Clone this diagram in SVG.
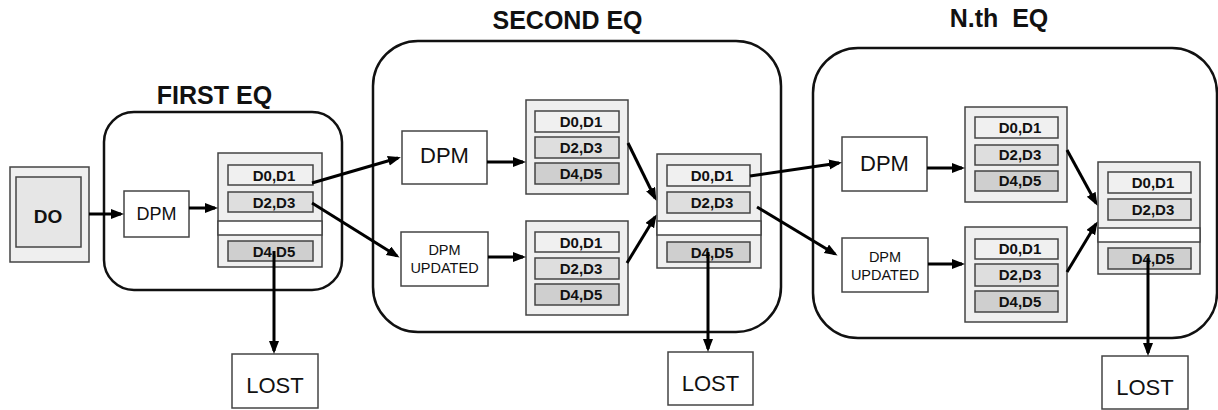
<svg xmlns="http://www.w3.org/2000/svg" width="1218" height="410" viewBox="0 0 1218 410">
<defs>
<style>
text{font-family:"Liberation Sans",Arial,sans-serif;fill:#111;text-anchor:middle}
.title{font-size:25px;font-weight:bold}
.eq{fill:none;stroke:#111;stroke-width:2.5}
.box{fill:#fff;stroke:#444;stroke-width:1.5}
.panel{fill:#efefef;stroke:#444;stroke-width:1.5}
.band{fill:#fff;stroke:#444;stroke-width:1.5}
.c1{fill:#f0f0f0;stroke:#444;stroke-width:1.5}
.c2{fill:#dedede;stroke:#444;stroke-width:1.5}
.c3{fill:#cfcfcf;stroke:#444;stroke-width:1.5}
.cell{font-size:15px;font-weight:bold}
.dpm{font-size:22px}
.upd{font-size:14.5px}
.lost{font-size:22px}
.conn line{stroke:#000;stroke-width:3;marker-end:url(#ah)}
</style>
<marker id="ah" markerUnits="userSpaceOnUse" markerWidth="14" markerHeight="12" refX="10" refY="5" orient="auto">
<path d="M0,0 L13,5 L0,10 z" fill="#000"/>
</marker>
</defs>
<rect width="1218" height="410" fill="#fff"/>

<g id="eq1">
<rect class="eq" x="104" y="112" width="238" height="178" rx="30"/>
<text class="title" x="214.5" y="104">FIRST EQ</text>
</g>
<g id="eq2">
<rect class="eq" x="373" y="41" width="408" height="291" rx="45"/>
<text class="title" x="567.5" y="29">SECOND EQ</text>
</g>
<g id="eqn">
<rect class="eq" x="813" y="48" width="404" height="290" rx="45"/>
<text class="title" x="999" y="27" xml:space="preserve">N.th  EQ</text>
</g>

<g id="do">
<rect class="panel" x="10" y="167" width="79" height="95"/>
<rect class="c1" x="16" y="177" width="65" height="70" style="fill:#e6e6e6"/>
<text x="48" y="223" style="font-size:19px;font-weight:bold">DO</text>
</g>

<g id="dpm1">
<rect class="box" x="124" y="191" width="65" height="46"/>
<text x="156.5" y="220" style="font-size:18px">DPM</text>
</g>

<g id="stack1">
<rect class="panel" x="218" y="153" width="104" height="114"/>
<rect class="band" x="218" y="221" width="104" height="14"/>
<rect class="c1" x="228" y="165" width="85" height="20"/>
<text class="cell" x="274" y="181">D0,D1</text>
<rect class="c2" x="228" y="192" width="85" height="20"/>
<text class="cell" x="274" y="208">D2,D3</text>
<rect class="c3" x="228" y="241" width="85" height="20"/>
<text class="cell" x="274" y="257">D4,D5</text>
</g>

<g id="lost1">
<rect class="box" x="232" y="354" width="86" height="54"/>
<text class="lost" x="275" y="393">LOST</text>
</g>

<g id="dpm2">
<rect class="box" x="402" y="131" width="85" height="53"/>
<text class="dpm" x="444.5" y="163">DPM</text>
</g>
<g id="dpmu2">
<rect class="box" x="401" y="232" width="87" height="54"/>
<text class="upd" x="444.5" y="255">DPM</text>
<text class="upd" x="444.5" y="273">UPDATED</text>
</g>

<g id="stack2a">
<rect class="panel" x="526" y="100" width="102" height="94"/>
<rect class="c1" x="535" y="111" width="84" height="21"/>
<text class="cell" x="581" y="127">D0,D1</text>
<rect class="c2" x="535" y="137" width="84" height="21"/>
<text class="cell" x="581" y="153">D2,D3</text>
<rect class="c3" x="535" y="163" width="84" height="21"/>
<text class="cell" x="581" y="179">D4,D5</text>
</g>
<g id="stack2b">
<rect class="panel" x="526" y="221" width="102" height="94"/>
<rect class="c1" x="535" y="232" width="84" height="20"/>
<text class="cell" x="581" y="248">D0,D1</text>
<rect class="c2" x="535" y="258" width="84" height="21"/>
<text class="cell" x="581" y="274">D2,D3</text>
<rect class="c3" x="535" y="284" width="84" height="21"/>
<text class="cell" x="581" y="300">D4,D5</text>
</g>
<g id="stack2m">
<rect class="panel" x="657" y="154" width="104" height="114"/>
<rect class="band" x="657" y="221" width="104" height="14"/>
<rect class="c1" x="667" y="165" width="83" height="21"/>
<text class="cell" x="712" y="181">D0,D1</text>
<rect class="c2" x="667" y="192" width="83" height="21"/>
<text class="cell" x="712" y="208">D2,D3</text>
<rect class="c3" x="667" y="242" width="83" height="20"/>
<text class="cell" x="712" y="258">D4,D5</text>
</g>
<g id="lost2">
<rect class="box" x="668" y="352" width="85" height="53"/>
<text class="lost" x="710.5" y="391">LOST</text>
</g>

<g id="dpmn">
<rect class="box" x="842" y="137" width="85" height="54"/>
<text class="dpm" x="884.5" y="171">DPM</text>
</g>
<g id="dpmun">
<rect class="box" x="842" y="238" width="86" height="54"/>
<text class="upd" x="885" y="262">DPM</text>
<text class="upd" x="885" y="280">UPDATED</text>
</g>
<g id="stackna">
<rect class="panel" x="965" y="107" width="102" height="95"/>
<rect class="c1" x="975" y="117" width="83" height="21"/>
<text class="cell" x="1020" y="133">D0,D1</text>
<rect class="c2" x="975" y="145" width="83" height="20"/>
<text class="cell" x="1020" y="160">D2,D3</text>
<rect class="c3" x="975" y="171" width="83" height="20"/>
<text class="cell" x="1020" y="186">D4,D5</text>
</g>
<g id="stacknb">
<rect class="panel" x="965" y="227" width="102" height="95"/>
<rect class="c1" x="975" y="239" width="83" height="20"/>
<text class="cell" x="1020" y="254">D0,D1</text>
<rect class="c2" x="975" y="264" width="83" height="22"/>
<text class="cell" x="1020" y="280">D2,D3</text>
<rect class="c3" x="975" y="291" width="83" height="21"/>
<text class="cell" x="1020" y="307">D4,D5</text>
</g>
<g id="stacknm">
<rect class="panel" x="1098" y="162" width="102" height="112"/>
<rect class="band" x="1098" y="228" width="102" height="14"/>
<rect class="c1" x="1108" y="172" width="83" height="21"/>
<text class="cell" x="1153" y="188">D0,D1</text>
<rect class="c2" x="1108" y="199" width="83" height="21"/>
<text class="cell" x="1153" y="215">D2,D3</text>
<rect class="c3" x="1108" y="248" width="83" height="21"/>
<text class="cell" x="1153" y="264">D4,D5</text>
</g>
<g id="lostn">
<rect class="box" x="1102" y="356" width="86" height="53"/>
<text class="lost" x="1145" y="395">LOST</text>
</g>

<g id="connectors" class="conn">
<line x1="89" y1="214" x2="121" y2="214"/>
<line x1="189" y1="208" x2="215" y2="208"/>
<line x1="312" y1="183" x2="398" y2="158"/>
<line x1="312" y1="203" x2="397" y2="256"/>
<line x1="487" y1="162" x2="523" y2="162"/>
<line x1="488" y1="257" x2="523" y2="257"/>
<line x1="628" y1="143" x2="655" y2="198"/>
<line x1="627" y1="263" x2="655" y2="217"/>
<line x1="750" y1="176" x2="839" y2="163"/>
<line x1="757" y1="207" x2="835" y2="254"/>
<line x1="927" y1="168" x2="962" y2="168"/>
<line x1="928" y1="264" x2="962" y2="264"/>
<line x1="1067" y1="150" x2="1096" y2="203"/>
<line x1="1067" y1="272" x2="1096" y2="224"/>
<line x1="274" y1="251" x2="274" y2="351"/>
<line x1="708" y1="252" x2="708" y2="349"/>
<line x1="1148" y1="258" x2="1148" y2="353"/>
</g>
</svg>
